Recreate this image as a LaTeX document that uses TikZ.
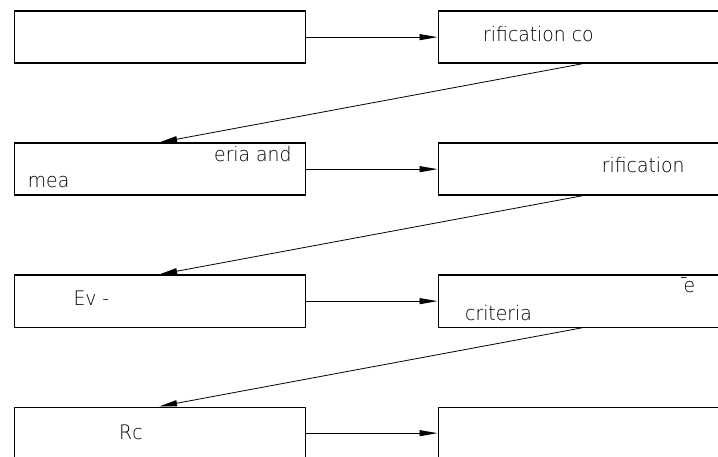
\documentclass[tikz,border=0pt]{standalone}
\usepackage{fontspec}
\setmainfont{DejaVu Sans ExtraLight}[FakeStretch=0.94]
\usetikzlibrary{arrows.meta}
\begin{document}
\begin{tikzpicture}[x=1pt,y=-1pt,
  box/.style={draw,line width=1.3pt,rectangle,minimum width=291pt,minimum height=52pt,inner sep=0pt,anchor=north west},
  lbl/.style={anchor=base west,inner sep=0pt,font=\fontsize{20}{23}\selectfont},
  conn/.style={line width=0.8pt,-{Triangle[length=18pt,width=6pt]}}]
\clip (0,0) rectangle (718,457);
\fill[white] (0,0) rectangle (718,457);
% boxes
\node[box] (l1) at (14,10.5) {};
\node[box] (r1) at (437.5,10.5) {};
\node[box] (l2) at (14,142.5) {};
\node[box] (r2) at (437.5,142.5) {};
\node[box] (l3) at (14,274.5) {};
\node[box] (r3) at (437.5,274.5) {};
\node[box] (l4) at (14,406.5) {};
\node[box] (r4) at (437.5,406.5) {};
% labels
\node[lbl] (t1) at (483,41.7) {rification co};
\node[lbl] (t2a) at (214,161.7) {eria and};
\node[lbl] (t2b) at (27.7,187.3) {mea};
\node[lbl] (t2c) at (601.7,172.7) {rification};
\node[lbl] (t3a) at (73.3,305.7) {Ev -};
\node[lbl] (t3b) at (679,292.3) {\char"00AF\kern-0.25em e};
\node[lbl] (t3c) at (465,320) {criteria};
\node[lbl] (t4) at (119,439.3) {Rc};
% connectors
\draw[conn] (l1.east) -- (r1.west);
\draw[conn] (l2.east) -- (r2.west);
\draw[conn] (l3.east) -- (r3.west);
\draw[conn] (l4.east) -- (r4.west);
\draw[conn] ([xshift=-1.5pt]r1.south) -- ([xshift=-1pt]l2.north);
\draw[conn] ([xshift=-1.5pt]r2.south) -- ([xshift=-1pt]l3.north);
\draw[conn] ([xshift=-1.5pt]r3.south) -- ([xshift=-1pt]l4.north);
\end{tikzpicture}
\end{document}
